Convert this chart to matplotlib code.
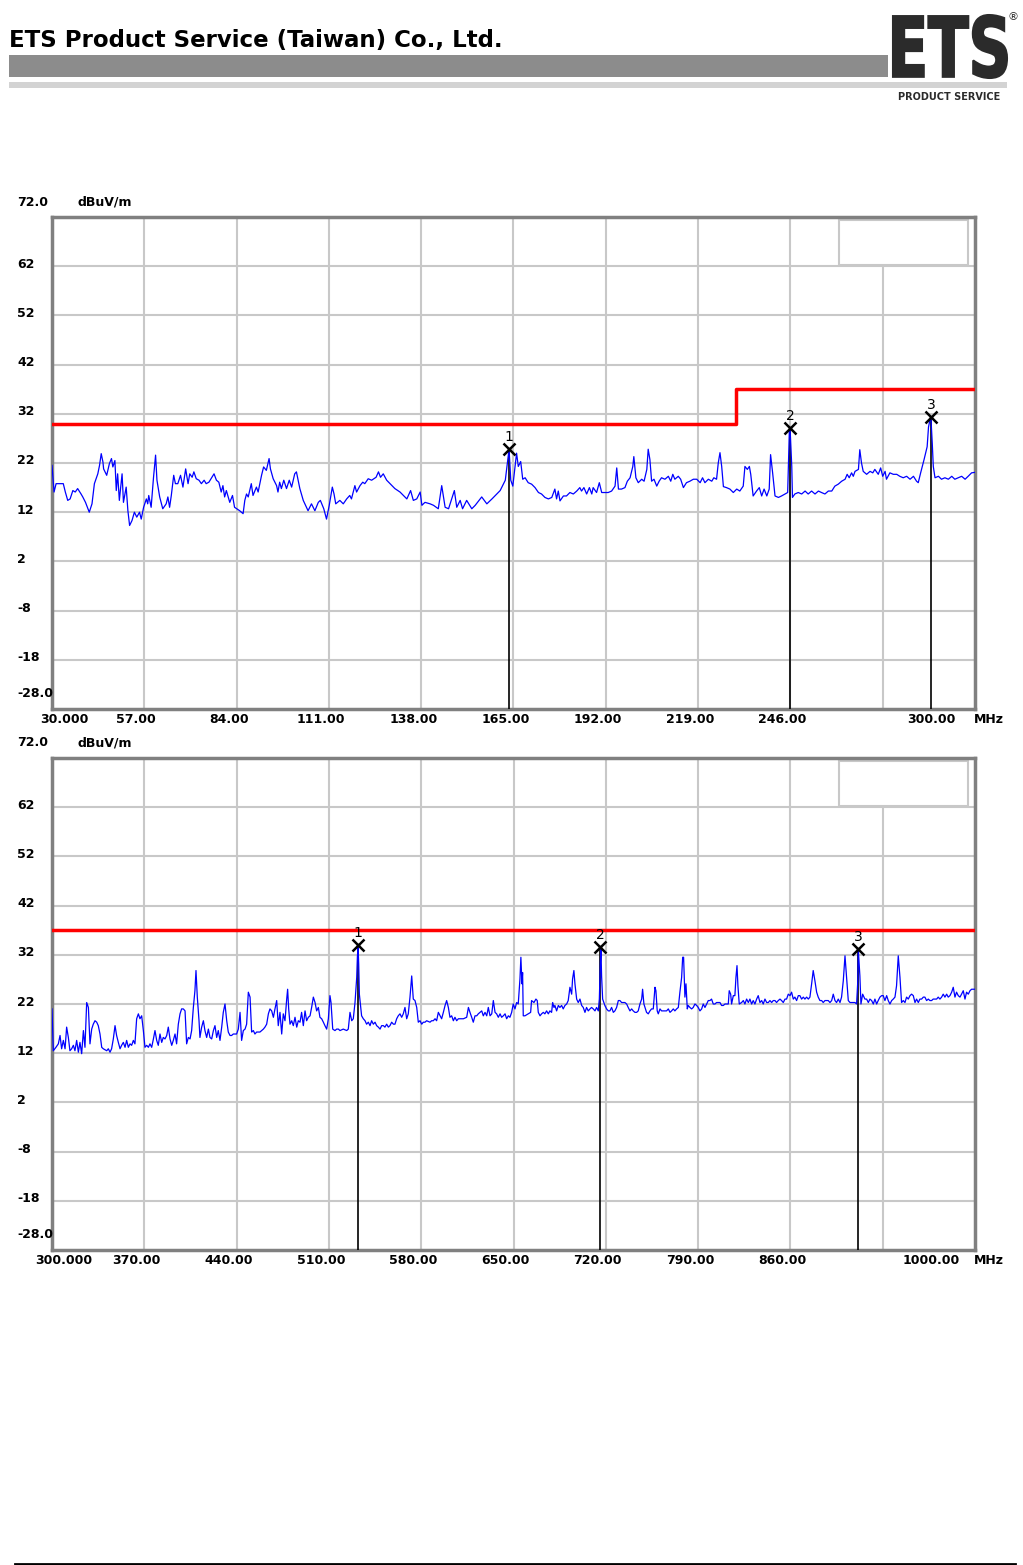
import matplotlib.pyplot as plt
from matplotlib.patches import Rectangle, PathPatch
from matplotlib.textpath import TextPath
from matplotlib.font_manager import FontProperties
from matplotlib.transforms import Affine2D

## data

# 30 - 300 MHz scan
top_freq = [30.0, 30.6, 31.2, 33.3, 33.9, 34.6, 35.3, 36.1, 36.8, 37.5, 38.5, 39.0, 39.8, 40.9, 41.7,
            42.4, 43.4, 43.9, 44.4, 44.9, 45.1, 46.0, 46.8, 47.4, 47.8, 48.4, 48.8, 49.2, 49.7, 50.5,
            50.9, 51.7, 52.2, 52.7, 53.4, 54.1, 54.8, 55.6, 56.1, 56.8, 57.6, 58.0, 58.3, 59.0, 59.7,
            60.3, 60.7, 61.5, 62.4, 63.4, 63.9, 64.4, 64.9, 65.6, 66.1, 66.8, 67.6, 68.3, 69.1, 69.8,
            70.3, 71.0, 71.5, 72.2, 73.0, 73.7, 74.5, 75.1, 75.9, 77.4, 78.1, 78.8, 79.5, 80.0, 80.5,
            81.0, 82.0, 82.8, 83.4, 84.9, 85.9, 86.4, 86.9, 87.4, 88.3, 88.8, 89.8, 90.3, 91.3, 91.9,
            92.7, 93.5, 93.9, 94.7, 95.7, 96.1, 96.6, 97.1, 97.8, 98.6, 99.4, 100.1, 101.0, 101.5, 102.5,
            103.5, 104.9, 105.9, 106.9, 107.9, 108.5, 109.5, 110.3, 111.1, 112.0, 112.5, 113.0, 114.2, 115.2, 116.2,
            117.1, 117.6, 118.6, 119.1, 120.1, 120.9, 121.5, 122.5, 123.5, 124.8, 125.5, 126.1, 126.9, 127.9, 128.9,
            130.3, 131.8, 132.8, 133.8, 134.9, 135.7, 136.7, 137.7, 138.2, 139.1, 140.6, 141.6, 143.0, 144.0, 145.0,
            146.0, 147.7, 148.4, 149.4, 150.1, 151.3, 152.8, 153.8, 155.7, 157.2, 158.7, 160.1, 161.1, 162.6, 163.3,
            163.7, 164.2, 164.8, 165.9, 166.4, 167.1, 167.7, 168.4, 169.3, 170.3, 171.3, 172.3, 173.2, 174.2, 175.2,
            176.2, 177.1, 177.6, 178.1, 178.6, 179.6, 180.5, 181.5, 182.5, 183.5, 184.4, 184.9, 185.6, 186.4, 187.2,
            187.9, 188.3, 189.3, 190.1, 190.8, 191.8, 192.7, 193.7, 194.7, 195.2, 195.7, 196.6, 197.6, 198.3, 199.1,
            199.9, 200.2, 200.8, 201.5, 202.5, 203.2, 204.0, 204.4, 204.9, 205.4, 206.1, 206.9, 207.6, 208.3, 209.3,
            210.3, 211.0, 211.6, 212.2, 213.2, 213.9, 214.7, 215.6, 216.6, 217.6, 218.6, 219.6, 220.3, 221.0, 222.0,
            223.0, 223.6, 224.4, 224.9, 225.4, 225.9, 226.4, 227.3, 228.3, 229.3, 230.3, 231.2, 232.2, 232.7, 233.4,
            234.0, 234.4, 235.1, 236.1, 236.9, 237.6, 238.3, 239.1, 239.8, 240.2, 240.8, 241.5, 242.5, 243.4, 244.4,
            245.2, 245.7, 245.9, 246.4, 246.6, 247.3, 248.3, 249.3, 250.3, 251.2, 252.2, 253.2, 254.2, 255.1, 256.1,
            257.1, 258.1, 259.0, 260.0, 261.0, 262.0, 262.6, 263.2, 263.9, 264.4, 264.9, 265.9, 266.3, 266.8, 267.3,
            268.3, 269.3, 270.1, 270.7, 271.7, 272.4, 273.0, 273.7, 274.1, 275.1, 276.1, 277.1, 278.0, 279.0, 280.0,
            281.0, 282.0, 282.9, 283.4, 284.1, 285.1, 286.0, 286.4, 286.8, 287.1, 287.5, 287.8, 288.3, 289.3, 290.2,
            291.2, 292.2, 293.2, 294.1, 295.1, 296.1, 297.1, 298.0, 299.0, 300.0]
top_level = [21.5, 16.1, 17.8, 17.8, 16.1, 14.4, 14.7, 16.4, 16.1, 16.8, 15.7, 15.1, 14.0, 12.0, 13.7,
             17.8, 19.8, 21.5, 23.9, 22.2, 20.8, 19.5, 21.9, 22.9, 21.2, 22.5, 16.4, 19.8, 14.4, 19.8,
             14.0, 17.1, 12.3, 9.3, 10.3, 12.0, 11.0, 12.0, 10.6, 13.0, 14.7, 13.7, 15.4, 13.0, 19.1,
             23.6, 18.5, 15.1, 12.7, 13.7, 15.1, 13.0, 15.4, 19.5, 17.8, 17.8, 19.5, 17.1, 20.8, 17.8,
             19.8, 19.1, 20.2, 18.8, 18.5, 17.8, 18.5, 17.8, 18.1, 19.8, 18.5, 18.1, 16.1, 17.4, 15.1,
             16.4, 14.0, 15.4, 13.0, 12.3, 11.7, 14.4, 15.7, 15.1, 17.8, 15.4, 17.1, 16.1, 19.5, 21.2,
             20.5, 22.9, 20.8, 18.8, 17.4, 16.1, 18.1, 16.8, 18.5, 16.8, 18.5, 17.1, 19.8, 20.2, 16.8,
             14.4, 12.3, 13.7, 12.3, 14.0, 14.4, 12.7, 10.6, 13.4, 17.1, 15.7, 13.7, 14.4, 13.7, 14.7,
             15.4, 14.7, 17.4, 16.1, 17.4, 18.1, 17.8, 18.8, 18.5, 19.1, 20.2, 19.1, 19.8, 18.5, 17.8,
             16.8, 16.1, 15.4, 14.7, 16.4, 14.4, 14.7, 16.1, 13.4, 14.0, 13.7, 13.4, 12.7, 17.4, 13.0,
             12.7, 16.4, 13.0, 14.4, 12.7, 14.4, 12.7, 13.4, 15.1, 13.7, 14.7, 15.7, 16.4, 18.5, 22.5,
             24.8, 18.5, 17.3, 24.0, 21.3, 22.3, 18.7, 19.0, 18.0, 17.7, 17.0, 16.0, 15.7, 15.0, 14.7,
             15.0, 16.7, 14.7, 16.3, 14.3, 15.3, 15.3, 16.0, 15.7, 16.3, 17.0, 16.3, 17.0, 15.7, 17.0,
             15.7, 17.0, 16.0, 18.0, 16.0, 16.0, 16.0, 16.3, 17.3, 21.0, 16.7, 16.7, 17.0, 18.3, 19.0,
             21.3, 23.3, 19.0, 18.0, 18.7, 18.3, 20.7, 24.8, 22.7, 18.3, 18.7, 17.3, 18.3, 19.0, 18.7,
             19.3, 18.3, 19.7, 18.7, 19.3, 18.7, 17.0, 18.0, 18.3, 18.7, 18.7, 18.0, 19.0, 18.0, 18.7,
             18.3, 19.0, 18.7, 22.0, 24.1, 21.3, 17.2, 17.0, 16.7, 16.0, 16.7, 16.3, 17.3, 21.3, 20.7,
             21.3, 19.7, 15.3, 16.3, 17.0, 15.3, 16.7, 15.3, 16.7, 23.7, 20.0, 15.3, 15.0, 15.3, 15.7,
             16.0, 28.7, 29.1, 21.3, 15.0, 15.7, 16.0, 15.7, 16.3, 15.7, 16.3, 15.7, 16.3, 16.0, 15.7,
             16.3, 16.3, 17.3, 17.7, 18.3, 18.7, 19.7, 19.0, 20.0, 19.3, 20.3, 20.7, 24.7, 22.0, 20.3,
             19.7, 20.3, 20.0, 20.7, 19.7, 21.0, 19.3, 20.3, 18.7, 20.0, 19.7, 19.7, 19.3, 19.0, 19.3,
             18.7, 19.3, 18.3, 18.0, 20.0, 22.7, 25.3, 29.3, 30.7, 31.3, 26.0, 21.3, 19.0, 19.3, 18.7,
             19.0, 18.7, 19.3, 18.7, 19.0, 19.3, 18.7, 19.3, 20.0, 20.1]
top_limit_freq = [30, 230, 230, 300]
top_limit_level = [30, 30, 37, 37]
top_mark_freq = [163.7, 245.9, 287.1]
top_mark_level = [24.8, 29.1, 31.3]
top_grid = [57, 84, 111, 138, 165, 192, 219, 246, 273]
top_ticks = [30, 57, 84, 111, 138, 165, 192, 219, 246, 300]
top_tick_labels = ["30.000", "57.00", "84.00", "111.00", "138.00", "165.00", "192.00", "219.00", "246.00", "300.00"]

# 300 - 1000 MHz scan
bot_freq = [300.0, 301.0, 303.0, 304.8, 306.1, 307.3, 308.6, 309.9, 311.1, 312.4, 313.6, 314.9, 316.2, 317.4, 318.7,
            320.0, 321.2, 322.5, 323.8, 325.0, 326.3, 327.6, 328.8, 330.1, 331.3, 332.6, 333.9, 335.1, 336.4, 337.7,
            338.9, 341.5, 342.7, 344.0, 345.2, 346.5, 347.8, 349.0, 350.3, 351.6, 352.8, 354.1, 355.4, 356.6, 357.9,
            359.2, 360.4, 361.7, 362.9, 364.2, 365.5, 366.7, 368.0, 369.3, 370.5, 371.8, 373.1, 374.3, 375.6, 376.9,
            378.1, 379.4, 380.6, 381.9, 383.2, 384.4, 385.7, 387.0, 388.2, 389.5, 390.8, 392.0, 393.3, 394.5, 395.8,
            397.1, 398.3, 399.6, 400.9, 402.1, 403.4, 404.7, 405.9, 407.2, 408.4, 409.2, 410.2, 411.5, 412.2, 413.5,
            414.8, 416.0, 417.3, 418.6, 419.8, 421.1, 422.4, 423.6, 424.9, 426.1, 427.4, 428.7, 429.9, 431.2, 432.5,
            433.7, 435.0, 436.2, 437.5, 438.8, 440.0, 441.3, 442.6, 443.8, 445.1, 446.4, 447.6, 448.9, 450.2, 451.4,
            452.7, 453.9, 455.2, 456.5, 457.7, 459.0, 460.3, 461.5, 462.8, 464.1, 465.3, 466.6, 467.9, 469.1, 470.4,
            471.6, 472.9, 474.2, 475.4, 476.7, 478.0, 478.7, 479.5, 480.5, 481.8, 483.0, 484.3, 485.6, 486.8, 488.1,
            489.3, 490.6, 491.9, 493.1, 494.4, 495.7, 496.9, 498.2, 499.5, 500.7, 502.0, 503.2, 504.5, 505.8, 507.0,
            508.3, 509.6, 510.8, 511.6, 512.9, 514.6, 515.9, 517.2, 518.4, 520.9, 523.5, 524.7, 526.0, 527.3, 528.5,
            529.8, 531.1, 531.6, 532.1, 532.6, 533.1, 534.8, 536.1, 537.4, 538.6, 539.9, 541.2, 542.4, 543.7, 545.0,
            546.2, 547.5, 548.8, 550.0, 551.3, 552.5, 553.8, 555.1, 556.3, 557.6, 558.9, 560.1, 561.4, 562.6, 563.9,
            565.2, 566.4, 567.7, 569.0, 570.2, 571.5, 572.8, 574.0, 575.3, 576.6, 577.8, 579.1, 580.4, 581.6, 582.9,
            584.1, 586.7, 587.9, 589.2, 590.5, 591.7, 593.0, 594.3, 595.5, 596.8, 598.1, 599.3, 600.6, 601.8, 603.1,
            604.4, 605.6, 606.9, 608.2, 609.4, 612.0, 614.5, 615.8, 617.0, 618.3, 619.5, 620.8, 622.1, 623.3, 624.6,
            625.9, 627.1, 628.4, 629.7, 630.9, 632.2, 633.5, 634.7, 636.0, 637.2, 638.5, 639.8, 641.0, 642.3, 643.6,
            644.8, 646.1, 647.3, 648.6, 649.8, 651.1, 652.4, 653.6, 654.9, 655.6, 656.4, 656.9, 657.4, 658.7, 661.2,
            663.0, 663.7, 665.5, 667.0, 668.0, 668.8, 670.1, 671.3, 672.6, 673.8, 675.1, 676.4, 677.6, 678.9, 679.7,
            680.7, 681.4, 682.7, 684.0, 685.2, 686.5, 687.7, 689.0, 690.3, 691.5, 692.8, 694.1, 694.8, 695.8, 696.6,
            697.9, 699.1, 700.4, 701.7, 702.9, 704.2, 705.4, 706.7, 708.0, 709.2, 710.5, 711.8, 713.0, 714.3, 715.1,
            715.8, 716.3, 716.8, 717.6, 719.3, 720.6, 721.9, 723.1, 724.4, 725.7, 726.9, 728.2, 729.5, 730.7, 732.0,
            733.3, 734.5, 735.8, 737.0, 738.3, 739.6, 740.8, 742.1, 743.4, 744.6, 745.9, 747.2, 747.9, 748.9, 749.7,
            750.9, 752.2, 753.5, 754.7, 756.0, 757.3, 758.0, 759.0, 759.8, 761.1, 762.3, 763.6, 764.9, 766.1, 767.4,
            768.7, 769.9, 771.2, 772.4, 773.7, 775.0, 776.2, 777.5, 778.3, 779.0, 780.0, 780.8, 781.8, 782.5, 783.8,
            785.1, 786.3, 787.6, 788.9, 790.1, 791.4, 792.7, 793.9, 795.2, 796.5, 797.7, 799.0, 800.2, 801.5, 802.8,
            804.0, 805.3, 806.6, 807.8, 809.1, 810.4, 811.6, 812.9, 813.6, 814.7, 815.4, 816.7, 817.9, 818.7, 819.5,
            820.2, 821.2, 823.0, 824.3, 825.5, 826.8, 828.1, 829.3, 830.6, 831.8, 833.1, 834.4, 835.6, 836.9, 838.2,
            839.4, 840.7, 842.0, 843.2, 844.5, 845.8, 847.0, 848.3, 849.5, 850.8, 852.1, 853.3, 854.6, 855.9, 857.1,
            858.4, 859.7, 860.9, 862.2, 863.4, 864.7, 866.0, 867.2, 868.5, 869.8, 871.0, 872.3, 873.6, 874.8, 876.1,
            877.3, 878.6, 879.9, 881.1, 882.4, 883.7, 884.9, 886.2, 887.5, 888.7, 890.0, 891.3, 892.5, 893.8, 895.0,
            896.3, 897.6, 898.8, 900.1, 901.4, 902.6, 903.9, 905.2, 906.4, 907.7, 909.0, 910.2, 911.0, 911.5, 912.7,
            913.5, 914.8, 915.8, 916.5, 917.8, 919.1, 920.3, 921.6, 922.9, 924.1, 925.4, 926.6, 927.9, 929.2, 930.4,
            931.7, 933.0, 934.2, 935.5, 936.8, 938.0, 939.3, 940.5, 941.8, 943.1, 944.3, 945.6, 946.9, 948.1, 949.4,
            950.7, 951.9, 953.2, 954.5, 955.7, 957.0, 958.2, 959.5, 960.8, 962.0, 963.3, 964.6, 965.8, 967.1, 968.3,
            969.6, 970.9, 972.1, 973.4, 974.7, 975.9, 977.2, 978.5, 979.7, 981.0, 982.3, 983.5, 984.8, 986.0, 987.3,
            988.6, 989.8, 991.1, 992.4, 993.6, 994.9, 996.2, 997.4, 998.7, 1000.0]
bot_level = [21.0, 12.5, 13.2, 13.9, 15.6, 12.9, 14.6, 12.9, 17.3, 15.2, 12.5, 12.9, 13.6, 12.5, 14.6,
             12.2, 14.2, 11.9, 16.6, 13.2, 22.3, 21.3, 13.9, 16.9, 17.9, 18.6, 18.3, 17.6, 15.9, 13.2,
             12.9, 12.5, 12.9, 12.2, 12.9, 14.9, 17.6, 15.6, 14.2, 12.9, 13.6, 14.2, 13.2, 14.6, 13.2,
             13.9, 13.6, 14.6, 13.9, 19.0, 20.0, 19.0, 19.6, 16.6, 13.2, 13.6, 13.2, 13.9, 13.2, 14.9,
             16.6, 14.6, 13.6, 15.9, 14.2, 15.2, 14.9, 15.6, 17.3, 14.9, 13.6, 14.6, 15.9, 13.9, 17.9,
             20.0, 21.0, 21.0, 20.6, 13.9, 15.2, 14.9, 16.6, 21.3, 24.7, 28.8, 23.4, 18.6, 15.2, 17.3,
             18.6, 16.6, 15.2, 16.9, 15.2, 14.9, 16.6, 17.6, 15.2, 16.6, 14.6, 17.3, 20.3, 22.0, 18.6,
             16.3, 15.6, 15.6, 15.9, 15.9, 15.9, 16.9, 20.3, 14.6, 16.6, 16.9, 17.9, 24.4, 23.4, 16.3,
             16.6, 15.9, 16.3, 16.3, 16.3, 16.6, 16.9, 17.3, 17.9, 20.0, 21.0, 20.6, 19.3, 21.0, 22.7,
             17.6, 20.3, 15.9, 20.0, 18.6, 23.0, 25.0, 21.0, 17.9, 18.6, 17.6, 19.3, 17.3, 18.6, 18.3,
             20.3, 17.6, 20.6, 18.6, 19.3, 19.6, 21.3, 23.4, 22.3, 20.6, 21.3, 19.3, 19.0, 18.3, 17.6,
             16.9, 19.0, 23.7, 22.3, 16.9, 16.6, 16.9, 16.9, 16.6, 16.9, 16.6, 16.9, 20.3, 18.6, 19.0,
             22.3, 27.4, 31.5, 33.8, 30.1, 24.0, 19.6, 19.0, 18.6, 17.9, 18.3, 17.6, 18.6, 17.9, 18.3,
             17.6, 17.3, 16.9, 17.6, 17.6, 17.3, 17.9, 17.3, 17.6, 18.3, 17.9, 17.9, 19.0, 19.6, 20.0,
             19.3, 20.0, 21.3, 19.0, 20.0, 23.4, 27.7, 23.0, 22.7, 21.3, 18.3, 18.6, 17.9, 18.3, 18.3,
             18.6, 18.3, 18.6, 18.6, 19.0, 18.6, 20.3, 19.6, 19.0, 20.3, 21.7, 22.7, 21.3, 19.3, 19.6,
             18.6, 19.3, 18.6, 19.0, 19.0, 19.0, 19.3, 21.3, 20.3, 19.3, 18.3, 19.6, 19.6, 20.0, 20.3,
             20.6, 19.6, 20.3, 19.6, 21.3, 19.6, 20.0, 22.7, 20.3, 20.0, 19.3, 20.0, 19.3, 19.6, 20.0,
             19.0, 19.6, 19.3, 20.3, 22.0, 21.0, 22.3, 22.0, 27.1, 31.5, 26.1, 28.4, 19.6, 19.6, 20.0,
             20.3, 22.7, 22.3, 23.0, 22.7, 20.3, 19.6, 20.0, 20.3, 20.0, 20.6, 20.0, 20.6, 20.3, 22.3,
             21.3, 21.7, 20.6, 21.7, 21.3, 21.7, 21.0, 21.7, 22.0, 22.7, 25.4, 24.0, 27.1, 28.8, 26.1,
             23.0, 22.3, 23.0, 21.7, 21.3, 20.3, 21.3, 20.6, 21.0, 21.3, 21.0, 20.6, 21.3, 20.6, 23.0,
             29.8, 33.4, 27.7, 23.0, 21.7, 21.0, 20.6, 20.6, 21.3, 20.3, 20.6, 21.3, 22.7, 22.7, 22.3,
             22.3, 22.3, 22.0, 21.3, 20.6, 21.0, 20.6, 20.3, 20.3, 20.6, 22.0, 23.0, 25.0, 22.0, 21.3,
             20.3, 20.0, 20.6, 21.0, 21.0, 25.4, 24.7, 20.6, 20.0, 21.0, 20.6, 20.6, 20.6, 20.6, 21.0,
             20.3, 20.6, 21.0, 20.6, 21.0, 21.3, 24.4, 27.4, 31.5, 31.5, 23.4, 26.1, 21.0, 21.7, 21.3,
             21.0, 21.3, 22.0, 21.7, 21.3, 20.6, 21.0, 22.0, 21.3, 22.0, 22.7, 22.7, 23.0, 22.0, 22.0,
             22.3, 22.3, 22.3, 21.7, 21.7, 22.0, 22.0, 22.0, 24.7, 24.0, 22.0, 23.7, 23.7, 27.4, 29.8,
             25.7, 22.0, 22.3, 22.7, 22.0, 23.0, 22.3, 23.0, 22.0, 22.7, 22.0, 23.0, 23.7, 22.3, 22.7,
             22.0, 23.0, 22.3, 22.3, 22.7, 22.3, 22.7, 22.7, 22.3, 22.7, 23.0, 22.7, 22.3, 23.0, 23.0,
             24.0, 23.7, 24.4, 23.0, 23.4, 22.7, 23.7, 23.7, 23.0, 23.4, 23.0, 23.4, 23.0, 23.4, 26.1,
             28.8, 26.7, 24.4, 23.4, 22.7, 22.7, 22.3, 22.7, 22.7, 22.7, 22.3, 22.7, 24.0, 22.7, 22.3,
             23.0, 22.3, 23.4, 26.7, 31.8, 27.4, 22.7, 22.3, 22.3, 22.3, 22.3, 22.0, 26.1, 33.0, 27.7,
             22.0, 24.0, 23.4, 23.0, 23.0, 22.3, 23.0, 22.7, 22.0, 23.0, 22.0, 22.7, 23.4, 23.7, 23.7,
             22.7, 23.7, 22.7, 22.0, 22.7, 23.0, 23.4, 25.7, 31.8, 27.4, 22.3, 22.7, 22.3, 23.4, 23.0,
             23.7, 24.0, 23.7, 22.3, 23.0, 22.3, 23.0, 23.0, 23.4, 23.4, 22.7, 23.0, 22.7, 22.7, 23.0,
             23.0, 23.0, 23.4, 23.0, 23.4, 24.0, 23.4, 24.0, 23.4, 23.7, 24.4, 25.4, 23.4, 24.4, 23.7,
             23.4, 24.0, 24.7, 23.0, 24.4, 24.0, 24.7, 25.0, 25.0, 25.0]
bot_limit_freq = [300, 1000]
bot_limit_level = [37, 37]
bot_mark_freq = [532.1, 715.6, 911.5]
bot_mark_level = [34.0, 33.6, 33.2]
bot_grid = [370, 440, 510, 580, 650, 720, 790, 860, 930]
bot_ticks = [300, 370, 440, 510, 580, 650, 720, 790, 860, 1000]
bot_tick_labels = ["300.000", "370.00", "440.00", "510.00", "580.00", "650.00", "720.00", "790.00", "860.00", "1000.00"]

y_grid = [62, 52, 42, 32, 22, 12, 2, -8, -18]
y_ticks = [72, 62, 52, 42, 32, 22, 12, 2, -8, -18, -28]
y_tick_labels = ["72.0", "62", "52", "42", "32", "22", "12", "2", "-8", "-18", "-28.0"]

LABEL_FONT = dict(family='DejaVu Sans', weight='bold', size=9)


# one spectrum panel: grid, limit line, trace and the three markers
def draw_panel(ax, freq, level, lim_f, lim_l, mark_f, mark_l, grid, ticks, tick_labels):
    lo, hi = ticks[0], ticks[-1]
    ax.set_xlim(lo, hi)
    ax.set_ylim(-28, 72)
    ax.set_xticks(grid)
    ax.set_yticks(y_grid)
    ax.tick_params(length=0, labelbottom=False, labelleft=False)
    ax.grid(True, color='#c8c8c8', lw=1.5)
    ax.set_axisbelow(True)
    for s in ax.spines.values():
        s.set_color('#808080')
        s.set_linewidth(2.5)

    # empty legend box in the corner
    ax.add_patch(Rectangle((0.853, 0.902), 0.139, 0.092, transform=ax.transAxes,
                           fill=True, facecolor='white', edgecolor='#c8c8c8', lw=1.5, zorder=2))

    ax.plot(lim_f, lim_l, color='#ff0000', lw=2.5, zorder=3)
    for f, l in zip(mark_f, mark_l):
        ax.plot([f, f], [-28, l], color='black', lw=1.2, zorder=3)
    ax.plot(freq, level, color='#0000ff', lw=0.9, zorder=4)
    for i, (f, l) in enumerate(zip(mark_f, mark_l)):
        ax.plot(f, l, marker='x', ms=8, mew=1.8, color='black', zorder=5)
        ax.annotate(str(i + 1), (f, l), xytext=(0, 12), textcoords='offset pixels',
                    ha='center', va='center', fontsize=10, color='black', zorder=5)

    # x labels sit a bit left of their grid lines, like the receiver printout
    for i, (t, lab) in enumerate(zip(ticks, tick_labels)):
        if i == 0:
            dx = 12
        elif i == len(ticks) - 1:
            dx = -44
        else:
            dx = -8
        ax.annotate(lab, (t, 0), xycoords=('data', 'axes fraction'), xytext=(dx, -11),
                    textcoords='offset pixels', ha='center', va='center', **LABEL_FONT)
    ax.annotate('MHz', (1, 0), xycoords='axes fraction', xytext=(14, -11),
                textcoords='offset pixels', ha='center', va='center', **LABEL_FONT)

    for t, lab in zip(y_ticks, y_tick_labels):
        dy = 15 if lab in ("72.0", "-28.0") else 2
        ax.annotate(lab, (0, t), xycoords=('axes fraction', 'data'), xytext=(-35, dy),
                    textcoords='offset pixels', ha='left', va='center', **LABEL_FONT)
    ax.annotate('dBuV/m', (0, 72), xycoords=('axes fraction', 'data'), xytext=(25, 15),
                textcoords='offset pixels', ha='left', va='center', **LABEL_FONT)


fig = plt.figure(figsize=(10.23, 15.65), dpi=100)
W, H = 1023.0, 1565.0

# page header
fig.text(9 / W, 1 - 40 / H, "ETS Product Service (Taiwan) Co., Ltd.", fontsize=16.5,
         fontweight='bold', family='DejaVu Sans', ha='left', va='center', color='black')
fig.patches.append(Rectangle((9 / W, 1 - 77 / H), 879 / W, 22 / H, transform=fig.transFigure,
                             facecolor='#8c8c8c', edgecolor='none'))
fig.patches.append(Rectangle((9 / W, 1 - 88 / H), 998 / W, 6 / H, transform=fig.transFigure,
                             facecolor='#d3d3d3', edgecolor='none'))

# logo, text stretched into its box
tp = TextPath((0, 0), "ETS", size=1, prop=FontProperties(family='DejaVu Sans', weight='bold'))
bb = tp.get_extents()
x0, x1, y0, y1 = 893 / W, 1007 / W, 1 - 78 / H, 1 - 15 / H
tr = Affine2D().translate(-bb.x0, -bb.y0).scale((x1 - x0) / bb.width, (y1 - y0) / bb.height).translate(x0, y0)
fig.patches.append(PathPatch(tr.transform_path(tp), transform=fig.transFigure,
                             facecolor='#2b2b2b', edgecolor='#2b2b2b', lw=1.5))
fig.text(1013 / W, 1 - 17 / H, "®", fontsize=8, ha='center', va='center', color='#2b2b2b')
fig.text(949 / W, 1 - 97 / H, "PRODUCT SERVICE", fontsize=7, fontweight='bold',
         ha='center', va='center', color='#2b2b2b')

ax1 = fig.add_axes([52 / W, 1 - 709 / H, 923 / W, 492 / H])
draw_panel(ax1, top_freq, top_level, top_limit_freq, top_limit_level,
           top_mark_freq, top_mark_level, top_grid, top_ticks, top_tick_labels)

ax2 = fig.add_axes([52 / W, 1 - 1250 / H, 923 / W, 492 / H])
draw_panel(ax2, bot_freq, bot_level, bot_limit_freq, bot_limit_level,
           bot_mark_freq, bot_mark_level, bot_grid, bot_ticks, bot_tick_labels)

# footer rule
fig.add_artist(plt.Line2D([15 / W, 1015 / W], [1 - 1564 / H, 1 - 1564 / H],
                          transform=fig.transFigure, color='black', lw=2))

fig.savefig('out.png', dpi=100)
